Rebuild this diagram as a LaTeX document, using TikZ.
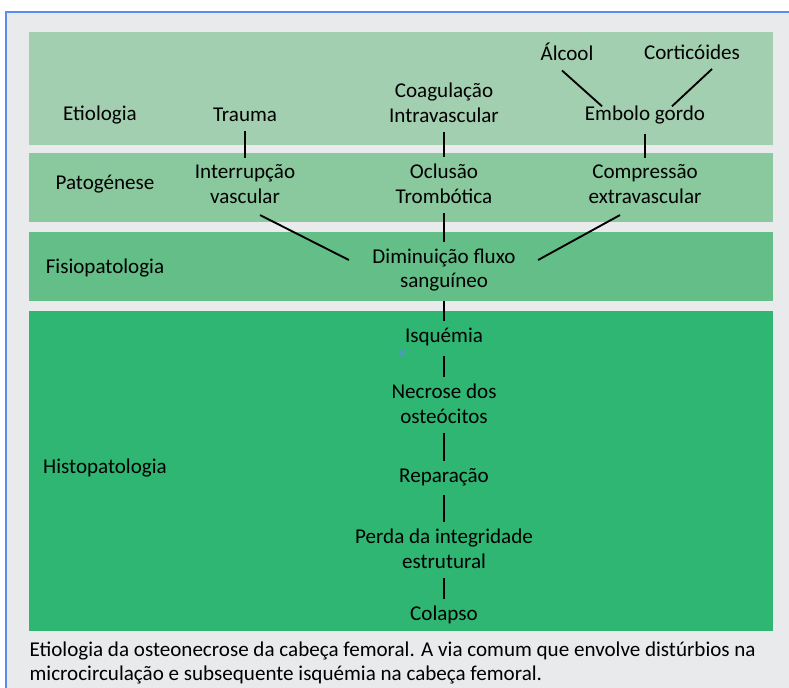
\documentclass[tikz,border=0pt]{standalone}
\usepackage{fontspec}
\setmainfont{Carlito}
\usetikzlibrary{calc}

\definecolor{pagegray}{HTML}{E9EAEC}
\definecolor{frameblue}{HTML}{5B8DEF}
\definecolor{etiogreen}{HTML}{A3CFB1}
\definecolor{patogreen}{HTML}{8AC89E}
\definecolor{fisiogreen}{HTML}{63BE87}
\definecolor{histogreen}{HTML}{2FB673}

\begin{document}
\begin{tikzpicture}[x=0.75pt,y=-0.75pt,
        every node/.style={font=\fontsize{15.8}{18.5}\selectfont,align=center,inner sep=1pt},
        link/.style={line width=1.4pt,black,shorten <=6pt,shorten >=4pt}]

    \useasboundingbox (0,0) rectangle (789,688);

    % page and bands
    \fill[white] (0,0) rectangle (789,688);
    \fill[pagegray] (6,12) rectangle (789,688);
    \draw[frameblue,line width=1pt] (6,688) -- (6,12) -- (789,12);
    \fill[etiogreen] (29,32) rectangle (773,145);
    \fill[patogreen] (29,153) rectangle (773,222);
    \fill[fisiogreen] (29,232) rectangle (773,301);
    \fill[histogreen] (29,311) rectangle (773,631);

    % row labels
    \node (etio) at (100,115) {Etiologia};
    \node (pato) at (105,184) {Patogénese};
    \node (fisio) at (105,268) {Fisiopatologia};
    \node (histo) at (105,468) {Histopatologia};

    % etiologia
    \node (alcool) at (567,52) {Álcool};
    \node (cortic) at (692,52) {Corticóides};
    \node (trauma) at (245,115) {Trauma};
    \node (coag) at (444,103) {Coagulação\\Intravascular};
    \node (embolo) at (645,115) {Embolo gordo};

    % patogenese
    \node (interr) at (245,184) {Interrupção\\vascular};
    \node (oclusao) at (444,184) {Oclusão\\Trombótica};
    \node (compr) at (645,184) {Compressão\\extravascular};

    % fisiopatologia
    \node (dimin) at (444,270) {Diminuição fluxo\\sanguíneo};

    % histopatologia
    \node (isq) at (444,337) {Isquémia};
    \node (necrose) at (444,404) {Necrose dos\\osteócitos};
    \node (repar) at (444,477) {Reparação};
    \node (perda) at (444,549) {Perda da integridade\\estrutural};
    \node (colapso) at (444,615) {Colapso};

    % caption
    \node[anchor=west,align=left] (legenda) at (28,663)
        {Etiologia da osteonecrose da cabeça femoral. A via comum que envolve distúrbios na\\
         microcirculação e subsequente isquémia na cabeça femoral.};

    % connectors
    \draw[line width=1.4pt] ($(alcool.south)+(-5,8)$) -- ($(embolo.north)+(-43,2)$);
    \draw[line width=1.4pt] ($(cortic.south)+(20,8)$) -- ($(embolo.north)+(27,2)$);
    \draw[link] (trauma) -- (interr);
    \draw[link] (coag) -- (oclusao);
    \draw[link] (embolo) -- (compr);
    \draw[line width=1.4pt] ($(interr.south)+(15,10)$) -- ($(dimin.west)+(-22,-10)$);
    \draw[line width=1.4pt] ($(compr.south)+(-25,10)$) -- ($(dimin.east)+(21,-10)$);
    \draw[link] (oclusao) -- (dimin);
    \draw[link] (dimin) -- (isq);
    \draw[link] (isq) -- (necrose);
    \draw[link] (necrose) -- (repar);
    \draw[link] (repar) -- (perda);
    \draw[link] (perda) -- (colapso);

    % stray mark
    \draw[frameblue,line width=0.6pt] (399,350) -- (405,356) (399,356) -- (405,350);

\end{tikzpicture}
\end{document}
